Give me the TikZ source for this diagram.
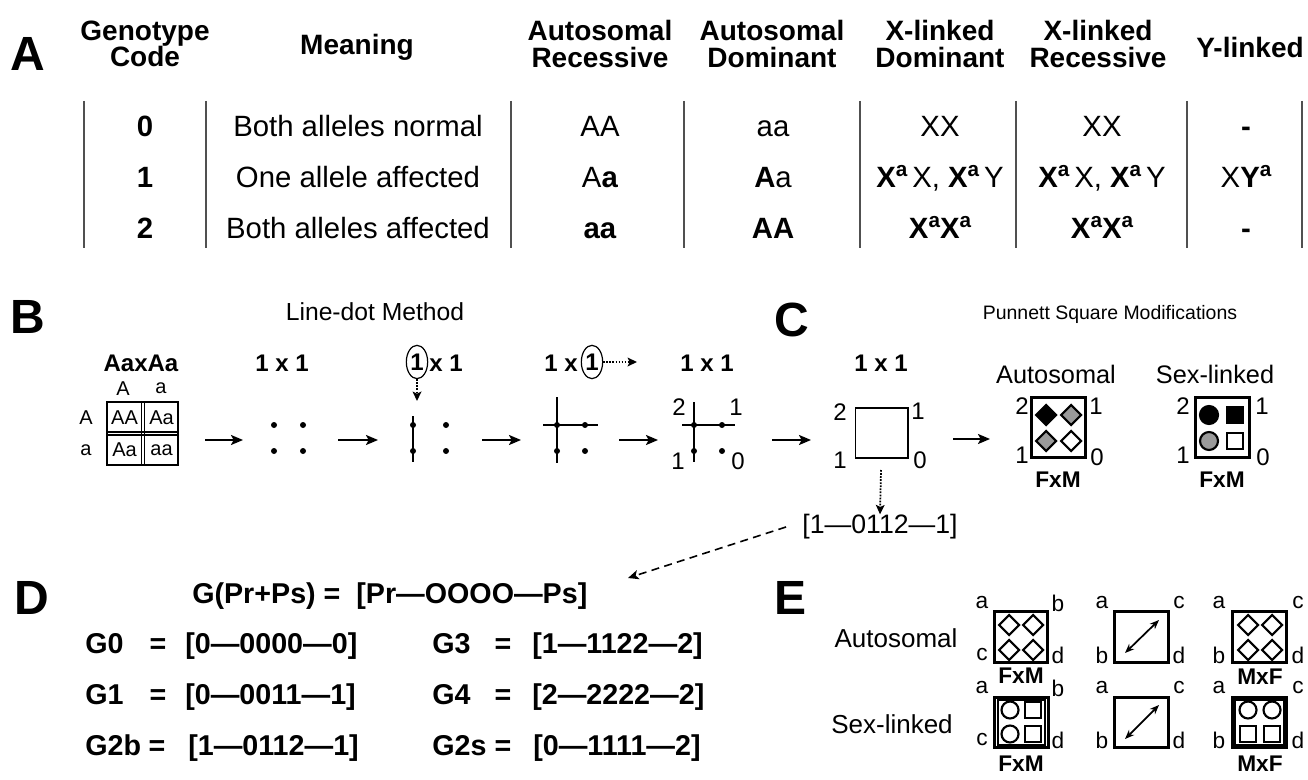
\documentclass[tikz,border=0pt]{standalone}
\usepackage{fontspec}
\setmainfont{Liberation Sans}
\usetikzlibrary{arrows.meta,shapes.geometric}

\definecolor{midgray}{HTML}{9A9A9A}
\definecolor{rulegray}{HTML}{505050}

\newcommand\setfs[1]{\fontsize{#1}{#1}\selectfont}
% bold raised "a" used for the affected allele
\newcommand\supa{\raisebox{0.38em}{\setfs{15.5}\bfseries a}}
\newcommand\Xa{\textbf{X}\supa}
% a diamond with centre (#1,#2), filled with #3
\newcommand\diam[3]{\draw[dline,fill=#3] (#1,#2-10) -- (#1+10,#2) -- (#1,#2+10) -- (#1-10,#2) -- cycle;}
% a small square with centre (#1,#2), filled with #3
\newcommand\sqmark[3]{\draw[dline,fill=#3] (#1-8,#2-8) rectangle (#1+8,#2+8);}

\begin{document}
\begin{tikzpicture}[x=0.75pt,y=-0.75pt,
  panel/.style={font=\setfs{36}\bfseries, inner sep=0},
  head/.style={font=\fontsize{21}{19.6}\selectfont\bfseries, align=center, inner sep=0},
  cell/.style={font=\setfs{22}, anchor=base, inner sep=0},
  bcell/.style={cell, font=\setfs{22}\bfseries},
  tline/.style={draw=rulegray, line width=1.2pt},
  title/.style={font=\setfs{18.5}, inner sep=0},
  stage/.style={font=\setfs{18}\bfseries, inner sep=0},
  small/.style={font=\setfs{15}, inner sep=0},
  corner/.style={font=\setfs{18}, inner sep=0},
  ecorner/.style={font=\setfs{17}, inner sep=0},
  sublab/.style={font=\setfs{19}, inner sep=0},
  cross/.style={font=\setfs{17}\bfseries, inner sep=0},
  eq/.style={font=\setfs{21.5}\bfseries, anchor=base west, inner sep=0},
  eqeq/.style={font=\setfs{21.5}\bfseries, anchor=base, inner sep=0},
  ldline/.style={line width=1.4pt},
  dot/.style={circle, fill=black, inner sep=0, minimum size=4.5pt},
  step arrow/.style={line width=1.6pt, -{Stealth[length=9pt,width=7.5pt,inset=2pt]}},
  hint arrow/.style={line width=1.3pt, densely dotted, -{Stealth[length=7pt,width=6.5pt,inset=1.5pt]}},
  link arrow/.style={line width=1.2pt, dash pattern=on 6pt off 4pt, -{Stealth[length=8pt,width=7pt,inset=2pt]}},
  swap arrow/.style={line width=1.3pt, {Stealth[length=7pt,width=5.5pt]}-{Stealth[length=7pt,width=5.5pt]}},
  thinbox/.style={draw, line width=1pt},
  thickbox/.style={draw, line width=2.4pt},
  dline/.style={line width=1.6pt},
  pick/.style={draw, ellipse, line width=0.9pt, minimum width=16pt, minimum height=25pt, inner sep=0}
]
\useasboundingbox (0,0) rectangle (1308,780);

% ---------------- A: genotype codes ----------------
\node[panel] (lblA) at (28,54) {A};
\node[head] (hCode) at (145,44) {Genotype\\Code};
\node[head] (hMean) at (357,47) {Meaning};
\node[head] (hAR) at (600,44) {Autosomal\\Recessive};
\node[head] (hAD) at (772,44) {Autosomal\\Dominant};
\node[head] (hXD) at (940,44) {X-linked\\Dominant};
\node[head] (hXR) at (1098,44) {X-linked\\Recessive};
\node[head] (hY) at (1250,47) {Y-linked};

\foreach \x in {84,206,511,684,860,1016,1187,1302}
  \draw[tline] (\x,101) -- (\x,248);

\node[bcell] (c0) at (145,136.5) {0};
\node[bcell] (c1) at (145,187.5) {1};
\node[bcell] (c2) at (145,238.5) {2};
\node[cell] (m0) at (358,136.5) {Both alleles normal};
\node[cell] (m1) at (358,187.5) {One allele affected};
\node[cell] (m2) at (358,238.5) {Both alleles affected};
\node[cell] (ar0) at (600,136.5) {AA};
\node[cell] (ar1) at (600,187.5) {A\textbf{a}};
\node[cell] (ar2) at (600,238.5) {\textbf{aa}};
\node[cell] (ad0) at (773,136.5) {aa};
\node[cell] (ad1) at (773,187.5) {\textbf{A}a};
\node[cell] (ad2) at (773,238.5) {\textbf{AA}};
\node[cell] (xd0) at (940,136.5) {XX};
\node[cell] (xd1) at (940,187.5) {\Xa\,X, \Xa\,Y};
\node[cell] (xd2) at (940,238.5) {\Xa\Xa};
\node[cell] (xr0) at (1102,136.5) {XX};
\node[cell] (xr1) at (1102,187.5) {\Xa\,X, \Xa\,Y};
\node[cell] (xr2) at (1102,238.5) {\Xa\Xa};
\node[bcell] (y0) at (1246,136.5) {-};
\node[cell] (y1) at (1246,187.5) {X\textbf{Y}\supa};
\node[bcell] (y2) at (1246,238.5) {-};

% ---------------- B: line-dot method ----------------
\node[panel] (lblB) at (28,317) {B};
\node[title] (tLD) at (375,312) {Line-dot Method};

\node[stage] (s0) at (141,363) {AaxAa};
\node[stage] (s1) at (282,363) {1 x 1};
\node[stage, pick] (s2a) at (417,362) {1};
\node[stage, anchor=west] (s2b) at (429,363) {x 1};
\node[stage, anchor=east] (s3a) at (578,363) {1 x};
\node[stage, pick] (s3b) at (592,362) {1};
\coordinate (s3end) at (637,362);
\node[stage] (s4) at (707,363) {1 x 1};

% Punnett square of Aa x Aa
\node[small] (pcA) at (123,389) {A};
\node[small] (pca) at (161,388) {a};
\node[small] (prA) at (86,418) {A};
\node[small] (pra) at (86,450) {a};
\draw[line width=0.9pt] (107,402) rectangle (178,465);
\draw[line width=0.9pt] (141.5,402) -- (141.5,465) (144.5,402) -- (144.5,465);
\draw[line width=0.9pt] (107,432) -- (178,432) (107,435) -- (178,435);
\node[small] (pAA) at (124.5,418) {AA};
\node[small] (pAa) at (161.5,418) {Aa};
\node[small] (paA) at (124.5,450) {Aa};
\node[small] (paa) at (161.5,450) {aa};

% stage 1: four dots
\node[dot] (d1a) at (274,425) {};
\node[dot] (d1b) at (303,425) {};
\node[dot] (d1c) at (274,451) {};
\node[dot] (d1d) at (303,451) {};

% stage 2: first gamete line
\draw[ldline] (413,416) -- (413,462);
\node[dot] (d2a) at (413,425) {};
\node[dot] (d2b) at (446,425) {};
\node[dot] (d2c) at (413,451) {};
\node[dot] (d2d) at (446,451) {};
\coordinate (s2end) at (417,401);

% stage 3: second gamete line
\draw[ldline] (557,397) -- (557,463);
\draw[ldline] (543,425) -- (598,425);
\node[dot] (d3a) at (557,425) {};
\node[dot] (d3b) at (585,425) {};
\node[dot] (d3c) at (557,451) {};
\node[dot] (d3d) at (585,451) {};

% stage 4: dots read as genotype codes
\draw[ldline] (694,402) -- (694,462);
\draw[ldline] (682,425) -- (735,425);
\node[dot] (d4a) at (694,425) {};
\node[dot] (d4b) at (722,425) {};
\node[dot] (d4c) at (694,451) {};
\node[dot] (d4d) at (722,451) {};
\node[corner] (n4a) at (679,407) {2};
\node[corner] (n4b) at (736,407) {1};
\node[corner] (n4c) at (678,461) {1};
\node[corner] (n4d) at (738,461) {0};

% step arrows
\coordinate (a1s) at (205,440); \coordinate (a1e) at (243,440);
\coordinate (a2s) at (338,440); \coordinate (a2e) at (378,440);
\coordinate (a3s) at (482,440); \coordinate (a3e) at (521,440);
\coordinate (a4s) at (619,440); \coordinate (a4e) at (658,440);
\coordinate (a5s) at (772,440); \coordinate (a5e) at (811,440);
\coordinate (a6s) at (953,439); \coordinate (a6e) at (990,439);
\draw[step arrow] (a1s) -- (a1e);
\draw[step arrow] (a2s) -- (a2e);
\draw[step arrow] (a3s) -- (a3e);
\draw[step arrow] (a4s) -- (a4e);
\draw[step arrow] (a5s) -- (a5e);
\draw[step arrow] (a6s) -- (a6e);

\draw[hint arrow] (s2a) -- (s2end);
\draw[hint arrow] (s3b) -- (s3end);

% ---------------- C: Punnett square modifications ----------------
\node[panel] (lblC) at (792,320) {C};
\node[title, font=\setfs{14.6}] (tPS) at (1110,314) {Punnett Square Modifications};

\node[stage] (s5) at (881,363) {1 x 1};
\node[thinbox, minimum width=39.5pt, minimum height=37.5pt, inner sep=0] (sq) at (881.5,433) {};
\node[corner] (q2) at (840,412) {2};
\node[corner] (q1) at (918,411) {1};
\node[corner] (q1b) at (840,460) {1};
\node[corner] (q0) at (920,460) {0};
\node[sublab, font=\setfs{20}] (g) at (880,527) {[1—0112—1]};
\coordinate (sqdrop) at (881,470);
\draw[hint arrow] (sqdrop) -- (g.north);

\node[sublab] (hAut) at (1056,374) {Autosomal};
\node[sublab] (hSex) at (1215,374) {Sex-linked};

\node[thickbox, minimum width=40pt, minimum height=45pt, inner sep=0] (ca) at (1058.5,427.5) {};
\diam{1046}{415}{black}
\diam{1071}{415}{midgray}
\diam{1046}{441}{midgray}
\diam{1071}{441}{white}
\node[corner] (ca2) at (1022,406) {2};
\node[corner] (ca1) at (1096,406) {1};
\node[corner] (ca1b) at (1022,455) {1};
\node[corner] (ca0) at (1097,457) {0};
\node[cross] (caf) at (1058,480) {FxM};

\node[thickbox, minimum width=41pt, minimum height=45pt, inner sep=0] (cs) at (1222.5,427.5) {};
\draw[dline,fill=black] (1209,415) circle (9);
\sqmark{1235}{415}{black}
\draw[dline,fill=midgray] (1209,441) circle (9);
\sqmark{1235}{441}{white}
\node[corner] (cs2) at (1183,406) {2};
\node[corner] (cs1) at (1262,406) {1};
\node[corner] (cs1b) at (1183,455) {1};
\node[corner] (cs0) at (1263,457) {0};
\node[cross] (csf) at (1222,480) {FxM};

% ---------------- D: genotype notation ----------------
\node[panel] (lblD) at (32,598) {D};
\node[eq] (gmain) at (192,603) {G(Pr+Ps) =\ \ [Pr—OOOO—Ps]};
\coordinate (gstart) at (786,527);
\coordinate (gtip) at (628,578);
\draw[link arrow] (gstart) -- (gtip);

\node[eq] (g0l) at (85,653) {G0};
\node[eqeq] (g0e) at (158,653) {=};
\node[eq] (g0r) at (185,653) {[0—0000—0]};
\node[eq] (g1l) at (85,704) {G1};
\node[eqeq] (g1e) at (158,704) {=};
\node[eq] (g1r) at (185,704) {[0—0011—1]};
\node[eq] (g2l) at (85,755) {G2b};
\node[eqeq] (g2e) at (157,755) {=};
\node[eq] (g2r) at (188,755) {[1—0112—1]};

\node[eq] (g3l) at (432,653) {G3};
\node[eqeq] (g3e) at (503,653) {=};
\node[eq] (g3r) at (532,653) {[1—1122—2]};
\node[eq] (g4l) at (432,704) {G4};
\node[eqeq] (g4e) at (503,704) {=};
\node[eq] (g4r) at (532,704) {[2—2222—2]};
\node[eq] (g5l) at (432,755) {G2s};
\node[eqeq] (g5e) at (503,755) {=};
\node[eq] (g5r) at (533,755) {[0—1111—2]};

% ---------------- E: cross direction ----------------
\node[panel] (lblE) at (790,598) {E};
\node[sublab, font=\setfs{19.5}] (eAut) at (896,638) {Autosomal};
\node[sublab, font=\setfs{19.5}] (eSex) at (892,724) {Sex-linked};

% autosomal, F x M
\node[thickbox, minimum width=40pt, minimum height=38pt, inner sep=0] (e1) at (1021,637) {};
\diam{1009}{625}{white}
\diam{1033}{625}{white}
\diam{1009}{650}{white}
\diam{1033}{650}{white}
\node[ecorner] (e1a) at (982,603) {a};
\node[ecorner] (e1b) at (1058,603) {b};
\node[ecorner] (e1c) at (982,655) {c};
\node[ecorner] (e1d) at (1058,655) {d};
\node[cross] (e1f) at (1021,676) {FxM};

% autosomal, swap
\node[thickbox, minimum width=40pt, minimum height=38pt, inner sep=0] (e2) at (1141.5,637) {};
\coordinate (e2p) at (1125,653); \coordinate (e2q) at (1159,620);
\draw[swap arrow] (e2p) -- (e2q);
\node[ecorner] (e2a) at (1102,603) {a};
\node[ecorner] (e2c) at (1179,603) {c};
\node[ecorner] (e2b) at (1102,655) {b};
\node[ecorner] (e2d) at (1179,655) {d};

% autosomal, M x F
\node[thickbox, minimum width=41pt, minimum height=38pt, inner sep=0] (e3) at (1259.5,637) {};
\diam{1248}{625}{white}
\diam{1272}{625}{white}
\diam{1248}{650}{white}
\diam{1272}{650}{white}
\node[ecorner] (e3a) at (1219,603) {a};
\node[ecorner] (e3c) at (1298,603) {c};
\node[ecorner] (e3b) at (1219,655) {b};
\node[ecorner] (e3d) at (1298,655) {d};
\node[cross] (e3f) at (1260,677) {MxF};

% sex-linked, F x M
\node[thickbox, minimum width=40pt, minimum height=38pt, inner sep=0] (e4) at (1021.5,722.5) {};
\draw[line width=1pt] (998,700) rectangle (1045,745);
\draw[dline] (1010,710) circle (8.5);
\draw[dline] (1010,734) circle (8.5);
\sqmark{1033}{710}{white}
\sqmark{1033}{734}{white}
\node[ecorner] (e4a) at (982,688) {a};
\node[ecorner] (e4b) at (1058,688) {b};
\node[ecorner] (e4c) at (982,740) {c};
\node[ecorner] (e4d) at (1058,740) {d};
\node[cross] (e4f) at (1021,764) {FxM};

% sex-linked, swap
\node[thickbox, minimum width=40pt, minimum height=38pt, inner sep=0] (e5) at (1141.5,722.5) {};
\coordinate (e5p) at (1125,739); \coordinate (e5q) at (1159,705);
\draw[swap arrow] (e5p) -- (e5q);
\node[ecorner] (e5a) at (1102,688) {a};
\node[ecorner] (e5c) at (1179,688) {c};
\node[ecorner] (e5b) at (1102,740) {b};
\node[ecorner] (e5d) at (1179,740) {d};

% sex-linked, M x F
\node[thickbox, minimum width=41pt, minimum height=38pt, inner sep=0] (e6) at (1259.5,722.5) {};
\draw[line width=1pt] (1235,700) rectangle (1284,745);
\draw[dline] (1248,710) circle (8.5);
\draw[dline] (1272,710) circle (8.5);
\sqmark{1248}{734}{white}
\sqmark{1272}{734}{white}
\node[ecorner] (e6a) at (1219,688) {a};
\node[ecorner] (e6c) at (1298,688) {c};
\node[ecorner] (e6b) at (1219,740) {b};
\node[ecorner] (e6d) at (1298,740) {d};
\node[cross] (e6f) at (1260,764) {MxF};
\end{tikzpicture}
\end{document}
